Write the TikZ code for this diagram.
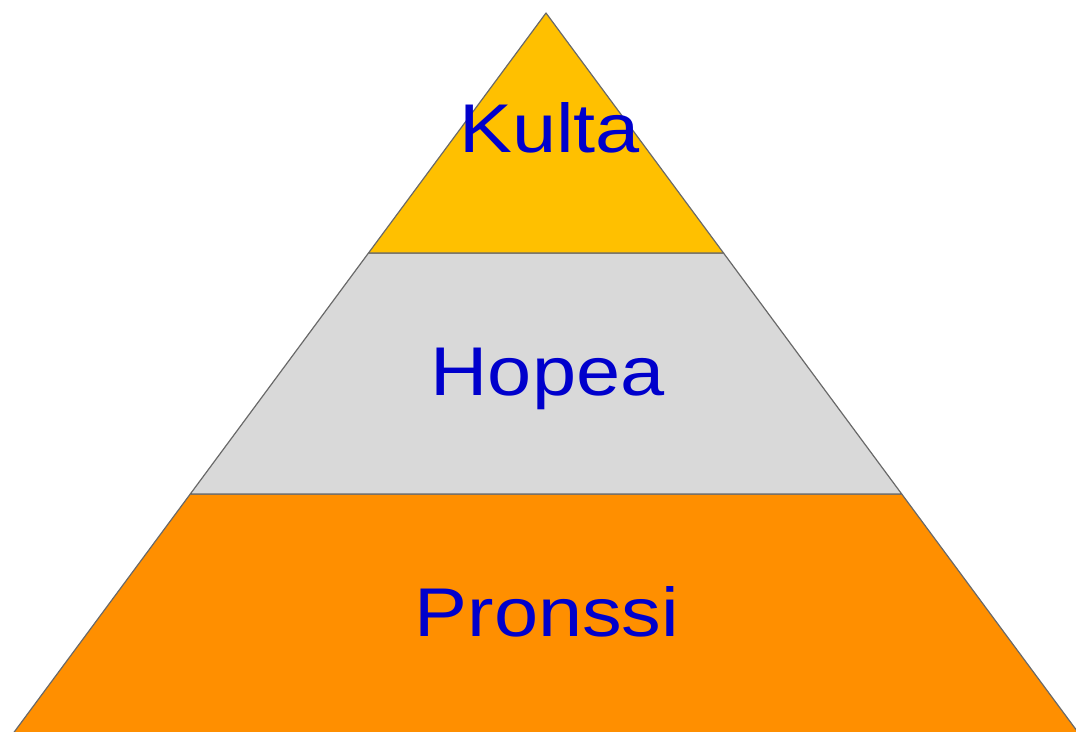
\documentclass[tikz,border=0pt]{standalone}
\usepackage{fontspec}
\setmainfont{Liberation Sans}
\definecolor{gold}{RGB}{255,192,0}
\definecolor{silver}{RGB}{217,217,217}
\definecolor{bronze}{RGB}{255,143,0}
\definecolor{txtblue}{RGB}{0,0,204}
\definecolor{edge}{RGB}{105,105,105}
\begin{document}
\begin{tikzpicture}[x=1pt,y=-1pt,
  layer/.style={draw=edge,line width=1.2pt,line join=round},
  lbl/.style={anchor=base,text=txtblue,inner sep=0pt,font=\fontsize{69}{69}\selectfont}]
\useasboundingbox (0,0) rectangle (1076,731);
\clip (0,0) rectangle (1076,731);
\coordinate (apex) at (546,13);
\coordinate (gl) at (368.5,253);
\coordinate (gr) at (723.5,253);
\coordinate (sl) at (190.3,494);
\coordinate (sr) at (901.7,494);
\coordinate (bl2) at (12,735);
\coordinate (br2) at (1080,735);
\fill[bronze] (sl) -- (sr) -- (br2) -- (bl2) -- cycle;
\draw[layer] (bl2) -- (sl) -- (sr) -- (br2);
\filldraw[layer,fill=silver] (gl) -- (gr) -- (sr) -- (sl) -- cycle;
\filldraw[layer,fill=gold] (apex) -- (gr) -- (gl) -- cycle;
\node[lbl] (kulta) at (549.5,152) {\scalebox{1.15}[1]{Kulta}};
\node[lbl] (hopea) at (547.5,395) {\scalebox{1.15}[1]{Hopea}};
\node[lbl] (pronssi) at (547,636) {\scalebox{1.15}[1]{Pronssi}};
\end{tikzpicture}
\end{document}
